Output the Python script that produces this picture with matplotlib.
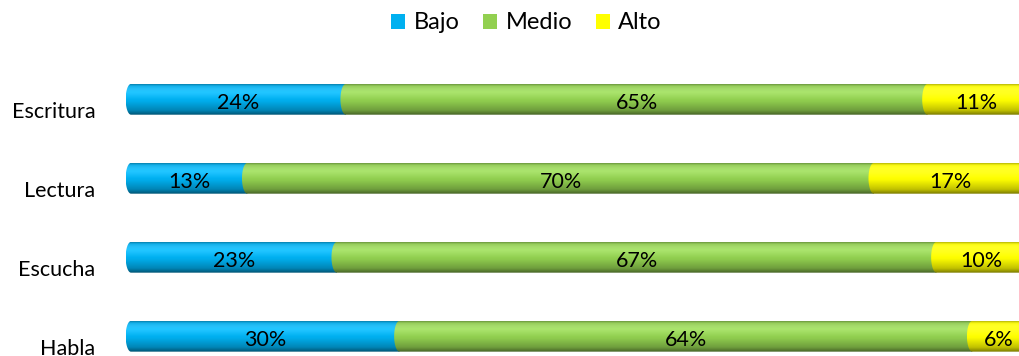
import numpy as np
import matplotlib
matplotlib.use("Agg")
from matplotlib import pyplot as plt
from matplotlib.patches import Patch, PathPatch
from matplotlib.path import Path
from matplotlib.colors import to_rgb

# Skill levels per area (percent)
categories = ["Habla", "Escucha", "Lectura", "Escritura"]
levels = ["Bajo", "Medio", "Alto"]
bajo = [30, 23, 13, 24]
medio = [64, 67, 70, 65]
alto = [6, 10, 17, 11]

COLORS = {"Bajo": "#00B0F0", "Medio": "#92D050", "Alto": "#FFFF00"}

BAR_H = 0.39      # bar thickness in y units
CAP = 0.6         # depth of the rounded left end, in x units

plt.rcParams["font.family"] = ["Lato", "DejaVu Sans"]


def cylinder_image(color, n=64):
    # vertical shading so each bar reads like a tube: light band near the top,
    # darker towards the lower edge
    base = np.array(to_rgb(color))
    t = np.linspace(0, 1, n)
    shade = np.interp(t, [0, 0.06, 0.25, 0.55, 0.85, 1.0],
                      [0.72, 0.97, 1.08, 0.98, 0.76, 0.48])
    light = np.clip(np.interp(t, [0, 0.15, 0.3, 0.5], [0.05, 0.25, 0.2, 0.0]), 0, 1)
    rgb = base[None, :] * shade[:, None]
    rgb = rgb + (1 - rgb) * light[:, None] * 0.6
    rgb = np.clip(rgb, 0, 1)
    return rgb[:, None, :]


def segment_path(x0, x1, yc, h):
    # rectangle with a half-ellipse bulging out on the left side
    th = np.linspace(np.pi / 2, 3 * np.pi / 2, 40)
    xs = x0 + CAP * np.cos(th)
    ys = yc + h / 2 * np.sin(th)
    verts = list(zip(xs, ys)) + [(x1, yc - h / 2), (x1, yc + h / 2), (xs[0], ys[0])]
    codes = [Path.MOVETO] + [Path.LINETO] * (len(verts) - 2) + [Path.CLOSEPOLY]
    return Path(verts, codes)


fig = plt.figure(figsize=(10.2, 3.56), dpi=100)
ax = fig.add_axes([120 / 1020, 0.0, 900 / 1020, 0.832])

series = {"Bajo": bajo, "Medio": medio, "Alto": alto}
for i, cat in enumerate(categories):
    left = 0
    for lvl in levels:
        val = series[lvl][i]
        right = left + val
        patch = PathPatch(segment_path(left, right, i, BAR_H), transform=ax.transData,
                          facecolor="none", edgecolor="none")
        ax.add_patch(patch)
        im = ax.imshow(cylinder_image(COLORS[lvl]), aspect="auto", interpolation="bilinear",
                       extent=[left - CAP, right, i - BAR_H / 2, i + BAR_H / 2],
                       origin="upper", zorder=2)
        im.set_clip_path(patch)
        ax.text(left + val / 2, i - 0.05, f"{val}%", ha="center", va="center",
                fontsize=15.5, color="black", zorder=3)
        left = right
    # category name, sitting a little below the bar axis
    ax.text(-4.0, i - 0.165, cat, ha="right", va="center", fontsize=15.5, color="black",
            clip_on=False)

ax.set_xlim(-11 / 8.95, 889 / 8.95)
ax.set_ylim(-0.25, 3.5)
ax.axis("off")

handles = [Patch(facecolor=COLORS[l], edgecolor="none", label=l) for l in levels]
fig.legend(handles=handles, loc="upper center", bbox_to_anchor=(0.516, 1.025), ncol=3,
           frameon=False, fontsize=17, handlelength=0.6, handleheight=0.6,
           handletextpad=0.35, columnspacing=1.0)

fig.savefig("out.png", dpi=100)
